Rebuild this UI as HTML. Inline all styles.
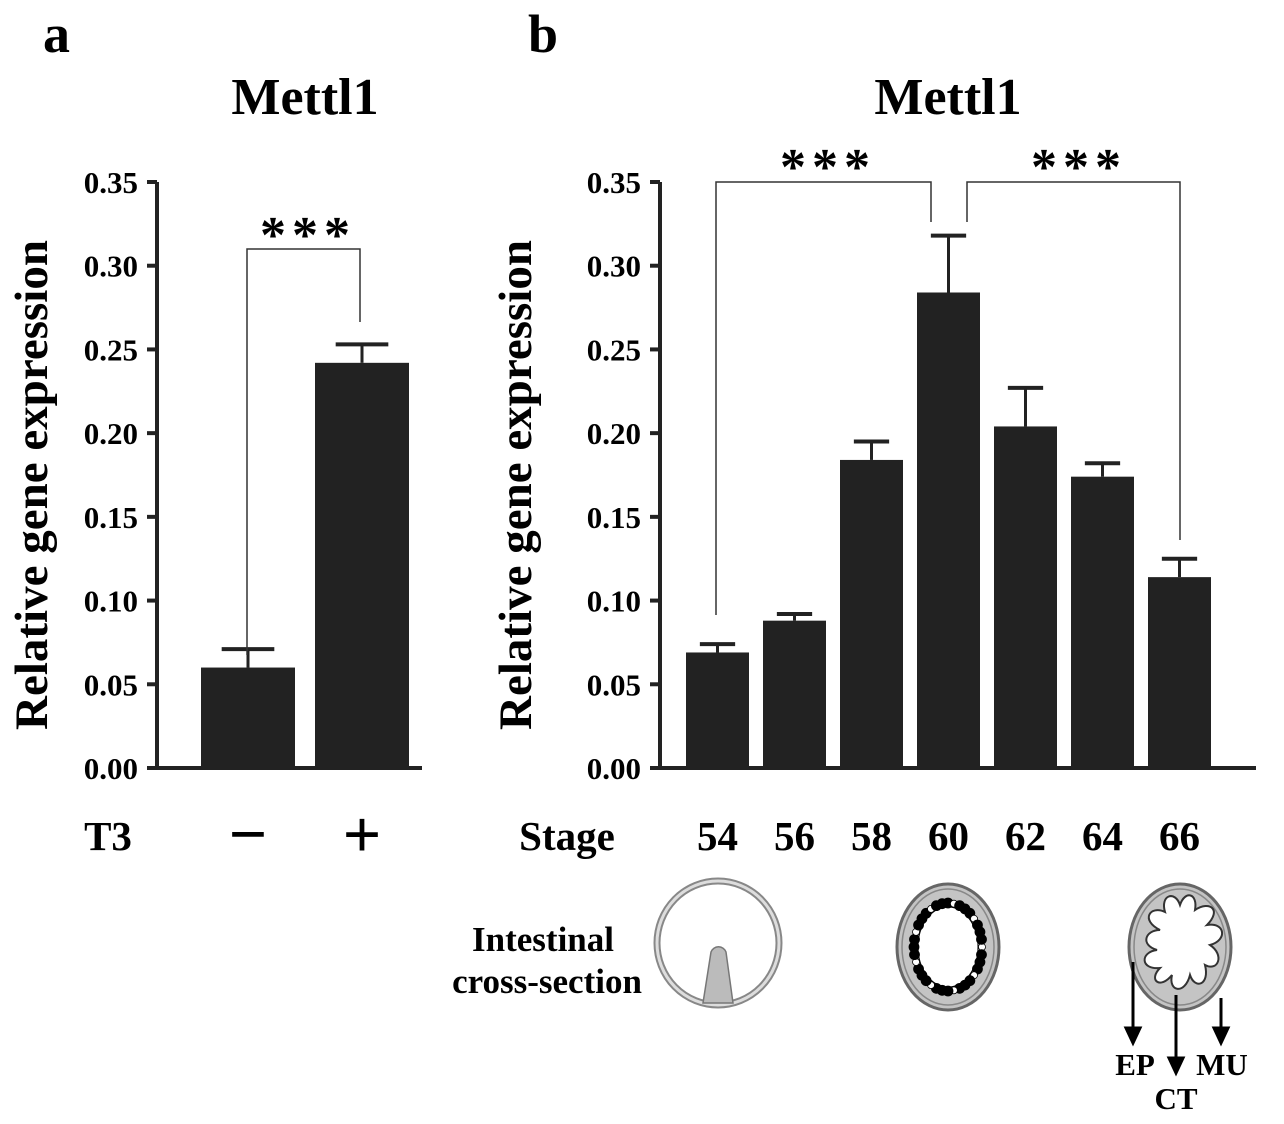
<!DOCTYPE html>
<html><head><meta charset="utf-8"><style>
body{margin:0;background:#fff}
svg{display:block;font-family:"Liberation Serif",serif;font-weight:bold}
</style></head><body>
<svg width="1284" height="1124" viewBox="0 0 1284 1124">
<text x="43" y="52" font-size="54">a</text>
<text x="528" y="52" font-size="54">b</text>
<text x="305" y="114" font-size="52" text-anchor="middle">Mettl1</text>
<text x="948" y="114" font-size="52" text-anchor="middle">Mettl1</text>
<text transform="translate(47,485) rotate(-90)" font-size="47" text-anchor="middle">Relative gene expression</text>
<text transform="translate(531,485) rotate(-90)" font-size="47" text-anchor="middle">Relative gene expression</text>
<g id="a"></g>
<g id="b"></g>
<text x="108" y="850" font-size="41" text-anchor="middle">T3</text>
<text x="567" y="850" font-size="41" text-anchor="middle">Stage</text>
<text x="543" y="951" font-size="35" text-anchor="middle">Intestinal</text>
<text x="547" y="993" font-size="35" text-anchor="middle">cross-section</text>
<g>
<ellipse cx="718" cy="943" rx="61" ry="62" fill="#fff" stroke="#888" stroke-width="7"/>
<ellipse cx="718" cy="943" rx="61" ry="62" fill="none" stroke="#ddd" stroke-width="3"/>
<path d="M703,1003 L711,952 A8,8 0 0 1 726,952 L733,1003 Z" fill="#bbb" stroke="#777" stroke-width="1.5"/>
</g>
<g>
<ellipse cx="948" cy="947" rx="51" ry="63" fill="#c4c4c4" stroke="#666" stroke-width="3"/>
<ellipse cx="948" cy="947" rx="46" ry="58" fill="none" stroke="#888" stroke-width="1.5"/>
<ellipse cx="948" cy="947" rx="30" ry="40" fill="#fff" stroke="#000" stroke-width="1"/>
<g id="dots"></g>
</g>
<g>
<ellipse cx="1180" cy="947" rx="51" ry="63" fill="#c4c4c4" stroke="#666" stroke-width="3"/>
<ellipse cx="1180" cy="947" rx="46" ry="58" fill="none" stroke="#888" stroke-width="1.5"/>
<path d="M1160,930 C1140,920 1150,905 1165,912 C1160,895 1175,890 1180,905 C1185,890 1198,893 1195,910 C1210,900 1222,910 1207,925 C1225,922 1228,940 1210,945 C1225,955 1218,972 1205,965 C1210,985 1195,990 1190,975 C1185,995 1168,992 1172,975 C1160,990 1148,980 1160,968 C1140,970 1140,952 1157,950 C1140,945 1145,930 1160,930 Z" fill="#fff" stroke="#333" stroke-width="2"/>
<g stroke="#000" stroke-width="3" fill="#000">
<line x1="1133" y1="962" x2="1133" y2="1030"/><polygon points="1126,1028 1140,1028 1133,1043"/>
<line x1="1176" y1="995" x2="1176" y2="1060"/><polygon points="1169,1058 1183,1058 1176,1073"/>
<line x1="1221" y1="998" x2="1221" y2="1030"/><polygon points="1214,1028 1228,1028 1221,1043"/>
</g>
<text x="1135" y="1075" font-size="31" text-anchor="middle">EP</text>
<text x="1222" y="1075" font-size="31" text-anchor="middle">MU</text>
<text x="1176" y="1109" font-size="31" text-anchor="middle">CT</text>
</g>
<script>
const ticks=[0,0.05,0.10,0.15,0.20,0.25,0.30,0.35];
const catsA=["\u2212","+"];
const valsA=[0.060,0.242];
const errA=[0.071,0.253];
const catsB=["54","56","58","60","62","64","66"];
const valsB=[0.069,0.088,0.184,0.284,0.204,0.174,0.114];
const errB=[0.074,0.092,0.195,0.318,0.227,0.182,0.125];
const NS="http://www.w3.org/2000/svg";
const y0=768,ppu=586/0.35;
function Y(v){return y0-v*ppu;}
function mk(p,t,a){const e=document.createElementNS(NS,t);for(const k in a)e.setAttribute(k,a[k]);p.appendChild(e);return e;}
function axis(g,ax,xEnd){
 const l=mk(g,'line',{x1:ax,y1:Y(0.35),x2:ax,y2:y0+2,stroke:'#222','stroke-width':4});
 
 
 const b=mk(g,'line',{x1:ax-2,y1:y0,x2:xEnd,y2:y0,stroke:'#222','stroke-width':4});
 
 
 ticks.forEach(t=>{
  mk(g,'line',{x1:ax-10,y1:Y(t),x2:ax,y2:Y(t),stroke:'#222','stroke-width':4});
  const tx=mk(g,'text',{x:ax-19,y:Y(t)+11,'font-size':31,'text-anchor':'end'});
  tx.textContent=t.toFixed(2);
  
  
 });
}
function bars(g,x0,step,w,vals,errs,cats,fs,fsz,ly){
 vals.forEach((v,i)=>{
  const x=x0+i*step,c=x+w/2;
  const r=mk(g,'rect',{x:x,y:Y(v),width:w,height:y0-Y(v),fill:'#222'});
  
  
  mk(g,'line',{x1:c,y1:Y(v),x2:c,y2:Y(errs[i]),stroke:'#222','stroke-width':3});
  mk(g,'line',{x1:c-w*0.28,y1:Y(errs[i]),x2:c+w*0.28,y2:Y(errs[i]),stroke:'#222','stroke-width':4});
  const t=mk(g,'text',{x:c,y:ly,'font-size':fs,'text-anchor':'middle','font-weight':fsz});
  t.textContent=cats[i];
  
  
 });
}
const ga=document.getElementById('a'),gb=document.getElementById('b');
axis(ga,157,422);axis(gb,660,1256);
bars(ga,201,114,94,valsA,errA,catsA,68,'bold',857);
bars(gb,686,77,63,valsB,errB,catsB,41,'bold',850);
function br(g,pts,sx,sy){
 const p=mk(g,'polyline',{points:pts,fill:'none',stroke:'#333','stroke-width':1.5});
 
 
 const t=mk(g,'text',{x:sx,y:sy,'font-size':52,'text-anchor':'middle','letter-spacing':'6'});
 t.textContent='***';
 
 
}
br(ga,"247,655 247,249 360,249 360,322",308,252);
br(gb,"716,615 716,182 931,182 931,222",828,184);
br(gb,"967,222 967,182 1180,182 1180,540",1079,184);
const d=document.getElementById('dots');
for(let i=0;i<36;i++){const a=i/36*2*Math.PI;const r=i%4==0?3.5:5;
 mk(d,'circle',{cx:948+34*Math.cos(a),cy:947+44*Math.sin(a),r:r,fill:i%4==0?'#fff':'#000',stroke:'#000','stroke-width':0.8});}
</script>
</svg>
</body></html>
